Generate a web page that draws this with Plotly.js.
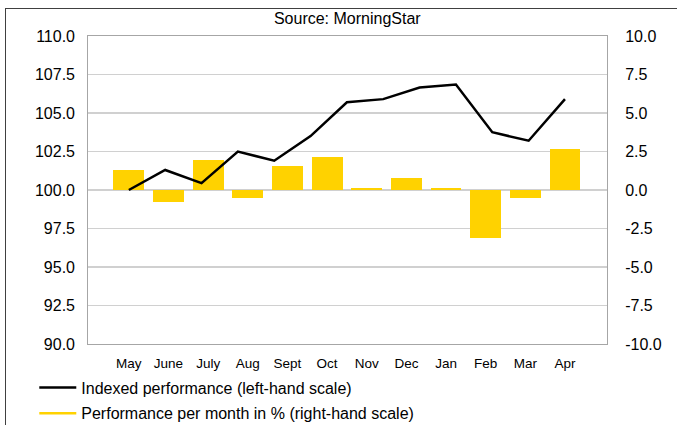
<!DOCTYPE html>
<html>
<head>
<meta charset="utf-8">
<script src="https://cdn.plot.ly/plotly-3.0.1.min.js"></script>
<style>
  html, body { margin: 0; padding: 0; background: #fff; overflow: hidden; }
  #wrap { position: relative; width: 677px; height: 425px; }
  #chart { width: 677px; height: 425px; }
  #frame { position: absolute; left: 5px; top: 8px; width: 700px; height: 500px;
           border-left: 1px solid #404040; border-top: 1px solid #404040; pointer-events: none; }
</style>
</head>
<body>
<div id="wrap"><div id="chart"></div><div id="frame"></div></div>
<script>
const months = ["May","June","July","Aug","Sept","Oct","Nov","Dec","Jan","Feb","Mar","Apr"];
const monthlyPerf = [1.3, -0.8, 1.95, -0.55, 1.55, 2.15, 0.15, 0.8, 0.15, -3.1, -0.55, 2.65];
const indexedPerf = [100.0, 101.3, 100.45, 102.5, 101.9, 103.5, 105.7, 105.9, 106.65, 106.85, 103.75, 103.2, 105.9];
const leftTicks = [90, 92.5, 95, 97.5, 100, 102.5, 105, 107.5, 110];
const rightTicks = [-10, -7.5, -5, -2.5, 0, 2.5, 5, 7.5, 10];
const lineName = "Indexed performance (left-hand scale)";
const barName = "Performance per month in % (right-hand scale)";

const barX = months.map((m, i) => i);
// the index line has one more point than months, spread over the same span
const step = (months.length - 1) / (indexedPerf.length - 1);
const lineX = indexedPerf.map((v, i) => i * step);

const yellow = "#FFD200";
const fontFam = "Liberation Sans, Arial, sans-serif";

const data = [
  { type: "bar", x: barX, y: monthlyPerf, xaxis: "x", yaxis: "y",
    marker: { color: yellow, line: { width: 0 } }, width: 0.78, showlegend: false, name: barName },
  { type: "scatter", mode: "lines", x: lineX, y: indexedPerf, xaxis: "x", yaxis: "y2",
    line: { color: "#000", width: 2.5 }, name: lineName, legendgroup: "a", legendrank: 1 },
  { type: "scatter", mode: "lines", x: [null], y: [null], xaxis: "x", yaxis: "y2",
    line: { color: yellow, width: 2.5 }, name: barName, legendgroup: "b", legendrank: 2 }
];

const layout = {
  width: 677, height: 425,
  margin: { l: 88, r: 70, t: 36, b: 81, autoexpand: false },
  paper_bgcolor: "#fff", plot_bgcolor: "rgba(0,0,0,0)",
  font: { family: fontFam, size: 16, color: "#000" },
  title: { text: "Source: MorningStar", font: { size: 16, family: fontFam, color: "#000" },
           x: 0.513, xanchor: "center", y: 1 - 18 / 425, yanchor: "middle", yref: "container" },
  showlegend: true,
  legend: { x: -0.1035, xanchor: "left", y: -0.086, yanchor: "top", orientation: "v",
            itemwidth: 37, traceorder: "grouped", tracegroupgap: 2,
            font: { size: 16, family: fontFam }, bgcolor: "rgba(0,0,0,0)" },
  xaxis: { type: "linear", range: [-1.03, 12.06], tickvals: barX, ticktext: months,
           showgrid: false, zeroline: false, showline: true, mirror: true, linecolor: "#a6a6a6",
           linewidth: 1, ticks: "", tickfont: { size: 13.5 }, ticklabelstandoff: 7 },
  yaxis: { range: [-10, 10], tickvals: rightTicks, ticktext: rightTicks.map(v => v.toFixed(1)),
           side: "right", showgrid: true, gridcolor: "#d0d0d0", gridwidth: 1.5,
           zeroline: false, showline: true, mirror: true, linecolor: "#a6a6a6",
           ticks: "", ticklabelstandoff: 14, tickfont: { size: 16 } },
  yaxis2: { range: [90, 110], tickvals: leftTicks, ticktext: leftTicks.map(v => v.toFixed(1)),
            overlaying: "y", side: "left", showgrid: false, zeroline: false, showline: false,
            ticks: "", ticklabelstandoff: 12, tickfont: { size: 16 } },
  bargap: 0
};

Plotly.newPlot("chart", data, layout, { displayModeBar: false, staticPlot: true });
</script>
</body>
</html>
